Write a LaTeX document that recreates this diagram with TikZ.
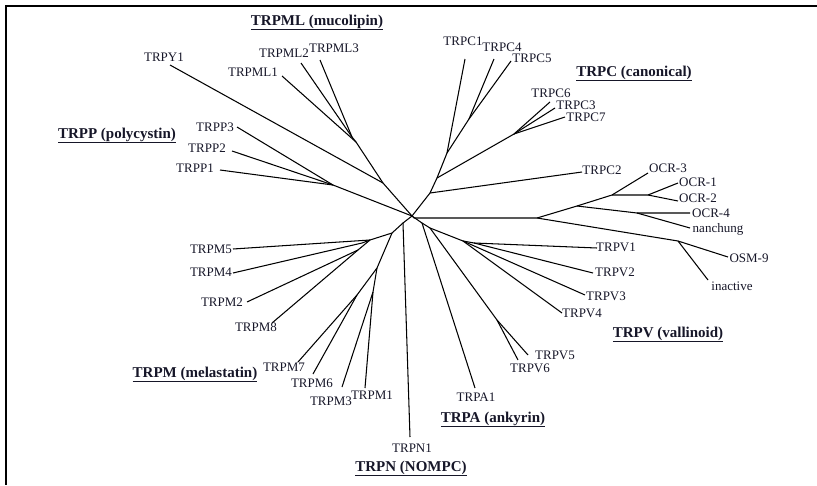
\documentclass[tikz,border=0pt]{standalone}
\usepackage{fontspec}
\setmainfont{Liberation Serif}
\definecolor{txt}{RGB}{22,22,40}
\begin{document}
\begin{tikzpicture}[x=1pt,y=-1pt,
  branch/.style={line width=1.05pt,black},
  leaf/.style={font=\fontsize{13}{13}\selectfont,text=txt,inner sep=0pt,anchor=base},
  clade/.style={font=\fontsize{15}{15}\selectfont\bfseries,text=txt,inner sep=0pt,anchor=base}]
\useasboundingbox (0,0) rectangle (817,485);
\draw[line width=1.5pt] (817,6) -- (6,6) -- (6,485);
% ---- internal nodes
\coordinate (O) at (412,216);
\coordinate (Y) at (383,183);
\coordinate (ML) at (356,142);
\coordinate (ML23) at (352,137);
\coordinate (P) at (333,185);
\coordinate (C2n) at (430,193);
\coordinate (C367) at (437,178);
\coordinate (C367b) at (514,134);
\coordinate (C1n) at (447,153);
\coordinate (C45) at (469,119);
\coordinate (A) at (537,218);
\coordinate (A0) at (414,218);
\coordinate (B) at (577,206);
\coordinate (OCR) at (612,195);
\coordinate (OCR12) at (648,195);
\coordinate (N4) at (637,213);
\coordinate (OSM) at (678,241);
\coordinate (R) at (422,223);
\coordinate (R2) at (430,228);
\coordinate (V56) at (497,320);
\coordinate (V14) at (463,241);
\coordinate (V12) at (474,243);
\coordinate (L) at (403,223);
\coordinate (M) at (392,233);
\coordinate (Ma) at (370,240);
\coordinate (M45) at (362,243);
\coordinate (M28) at (358,250);
\coordinate (Mb) at (377,268);
\coordinate (M76) at (357,295);
\coordinate (M31) at (373,292);
% ---- leaf tips
\coordinate (tY1) at (170,65);
\coordinate (tML1) at (282,76);
\coordinate (tML2) at (301,63);
\coordinate (tML3) at (320,60);
\coordinate (tP3) at (237,127);
\coordinate (tP2) at (232,151);
\coordinate (tP1) at (220,170);
\coordinate (tC2) at (582,172);
\coordinate (tC6) at (550,102);
\coordinate (tC3) at (555,108);
\coordinate (tC7) at (565,117);
\coordinate (tC1) at (465,59);
\coordinate (tC4) at (494,59);
\coordinate (tC5) at (511,61);
\coordinate (tO3) at (648,173);
\coordinate (tO1) at (678,183);
\coordinate (tO2) at (678,201);
\coordinate (tO4) at (690,213);
\coordinate (tnan) at (690,228);
\coordinate (tOSM) at (728,257);
\coordinate (tina) at (708,280);
\coordinate (tA1) at (475,388);
\coordinate (tV5) at (528,355);
\coordinate (tV6) at (518,360);
\coordinate (tV1) at (597,248);
\coordinate (tV2) at (593,273);
\coordinate (tV3) at (585,295);
\coordinate (tV4) at (562,313);
\coordinate (tN1) at (410,437);
\coordinate (tM5) at (233,249);
\coordinate (tM4) at (233,273);
\coordinate (tM2) at (247,302);
\coordinate (tM8) at (272,323);
\coordinate (tM7) at (298,362);
\coordinate (tM6) at (313,374);
\coordinate (tM3) at (342,387);
\coordinate (tM1) at (365,388);
% ---- branches
\draw[branch] (O) -- (Y) -- (tY1);
\draw[branch] (Y) -- (ML) -- (tML1);
\draw[branch] (ML) -- (ML23) -- (tML2);
\draw[branch] (ML23) -- (tML3);
\draw[branch] (O) -- (P) -- (tP3);
\draw[branch] (P) -- (tP2);
\draw[branch] (P) -- (tP1);
\draw[branch] (O) -- (C2n) -- (tC2);
\draw[branch] (C2n) -- (C367) -- (C367b) -- (tC6);
\draw[branch] (C367b) -- (tC3);
\draw[branch] (C367b) -- (tC7);
\draw[branch] (C367) -- (C1n) -- (tC1);
\draw[branch] (C1n) -- (C45) -- (tC4);
\draw[branch] (C45) -- (tC5);
\draw[branch] (O) -- (A0) -- (A) -- (B) -- (OCR) -- (tO3);
\draw[branch] (OCR) -- (OCR12) -- (tO1);
\draw[branch] (OCR12) -- (tO2);
\draw[branch] (B) -- (N4) -- (tO4);
\draw[branch] (N4) -- (tnan);
\draw[branch] (A) -- (OSM) -- (tOSM);
\draw[branch] (OSM) -- (tina);
\draw[branch] (O) -- (R) -- (tA1);
\draw[branch] (R) -- (R2) -- (V56) -- (tV5);
\draw[branch] (V56) -- (tV6);
\draw[branch] (R2) -- (V14) -- (V12) -- (tV1);
\draw[branch] (V12) -- (tV2);
\draw[branch] (V14) -- (tV3);
\draw[branch] (V14) -- (tV4);
\draw[branch] (O) -- (L) -- (tN1);
\draw[branch] (L) -- (M) -- (Ma) -- (tM5);
\draw[branch] (Ma) -- (M45) -- (tM4);
\draw[branch] (Ma) -- (M28) -- (tM2);
\draw[branch] (M28) -- (tM8);
\draw[branch] (M) -- (Mb) -- (M76) -- (tM7);
\draw[branch] (M76) -- (tM6);
\draw[branch] (Mb) -- (M31) -- (tM3);
\draw[branch] (M31) -- (tM1);
% ---- leaf labels
\node[leaf] (lY1) at (164,61.3) {TRPY1};
\node[leaf] (lML1) at (253,76.3) {TRPML1};
\node[leaf] (lML2) at (284,57.3) {TRPML2};
\node[leaf] (lML3) at (334,52.3) {TRPML3};
\node[leaf] (lP3) at (215,131.3) {TRPP3};
\node[leaf] (lP2) at (207,152.3) {TRPP2};
\node[leaf] (lP1) at (195,172.3) {TRPP1};
\node[leaf] (lC1) at (463,45.3) {TRPC1};
\node[leaf] (lC4) at (502,51.3) {TRPC4};
\node[leaf] (lC5) at (532,62.3) {TRPC5};
\node[leaf] (lC6) at (551,97.3) {TRPC6};
\node[leaf] (lC3) at (576,109.3) {TRPC3};
\node[leaf] (lC7) at (586,121.3) {TRPC7};
\node[leaf] (lC2) at (602,174.3) {TRPC2};
\node[leaf] (lO3) at (668,172.3) {OCR-3};
\node[leaf] (lO1) at (698,186.3) {OCR-1};
\node[leaf] (lO2) at (698,202.3) {OCR-2};
\node[leaf] (lO4) at (711,217.3) {OCR-4};
\node[leaf] (lnan) at (718,232.3) {nanchung};
\node[leaf] (lOSM) at (749,262.3) {OSM-9};
\node[leaf] (lina) at (732,290.3) {inactive};
\node[leaf] (lV1) at (616,251.3) {TRPV1};
\node[leaf] (lV2) at (615,276.3) {TRPV2};
\node[leaf] (lV3) at (606,300.3) {TRPV3};
\node[leaf] (lV4) at (582,317.3) {TRPV4};
\node[leaf] (lV5) at (555,359.3) {TRPV5};
\node[leaf] (lV6) at (530,372.3) {TRPV6};
\node[leaf] (lA1) at (476,401.3) {TRPA1};
\node[leaf] (lN1) at (412,452.3) {TRPN1};
\node[leaf] (lM5) at (211,253.3) {TRPM5};
\node[leaf] (lM4) at (211,276.3) {TRPM4};
\node[leaf] (lM2) at (222,306.3) {TRPM2};
\node[leaf] (lM8) at (256,331.3) {TRPM8};
\node[leaf] (lM7) at (284,371.3) {TRPM7};
\node[leaf] (lM6) at (312,387.3) {TRPM6};
\node[leaf] (lM3) at (331,405.3) {TRPM3};
\node[leaf] (lM1) at (372,399.3) {TRPM1};
% ---- clade headings
\node[clade] (hML) at (317,25) {\underline{TRPML (mucolipin)}};
\node[clade] (hP) at (117,138) {\underline{TRPP (polycystin)}};
\node[clade] (hC) at (634,76) {\underline{TRPC (canonical)}};
\node[clade] (hV) at (668,337) {\underline{TRPV (vallinoid)}};
\node[clade] (hA) at (493,422) {\underline{TRPA (ankyrin)}};
\node[clade] (hN) at (411,471) {\underline{TRPN (NOMPC)}};
\node[clade] (hM) at (195,377) {\underline{TRPM (melastatin)}};
\end{tikzpicture}
\end{document}
